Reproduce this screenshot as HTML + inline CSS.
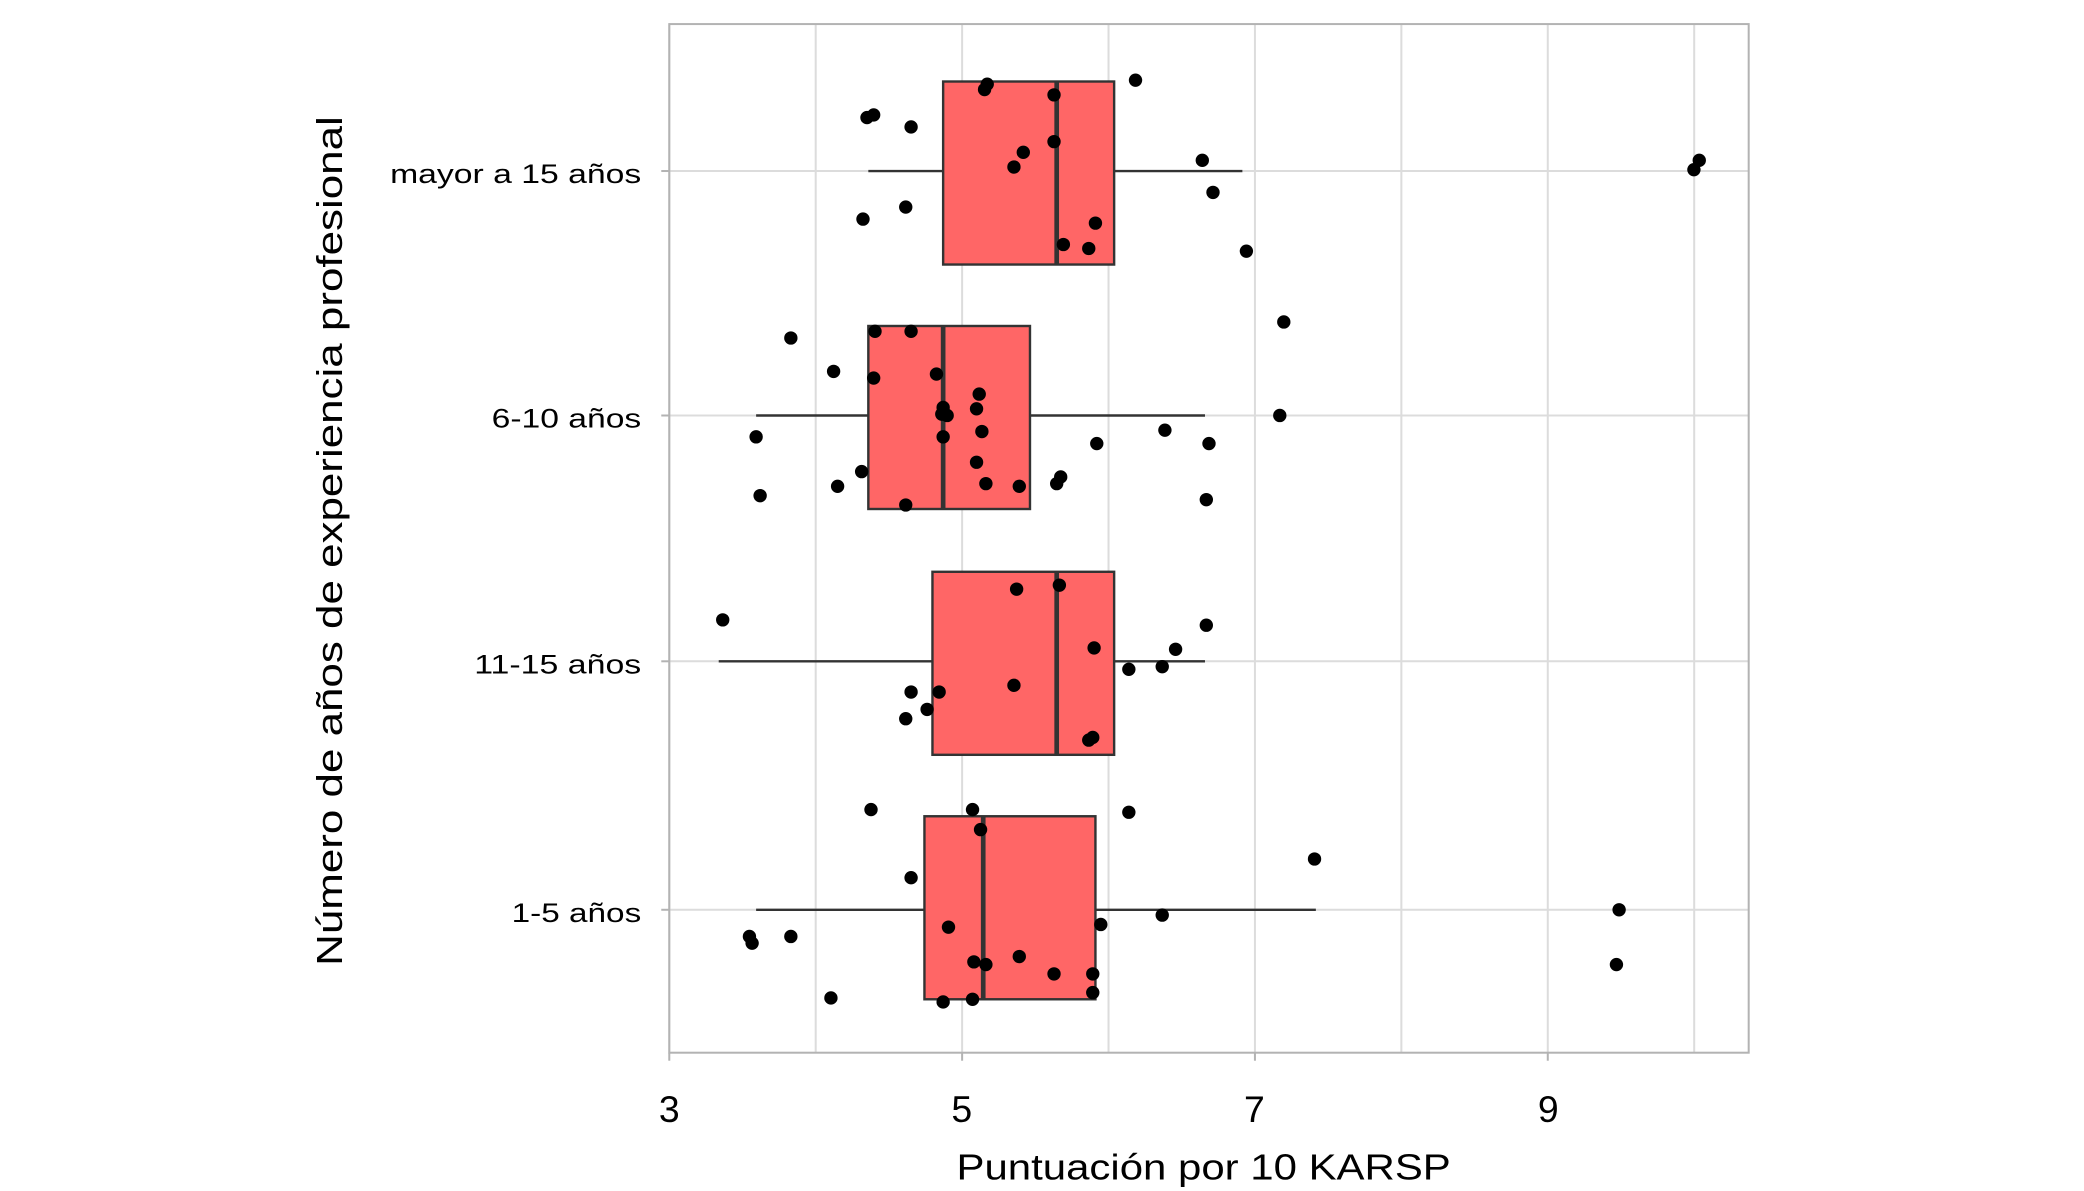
<!DOCTYPE html>
<html><head><meta charset="utf-8"><style>html,body{margin:0;padding:0;background:#fff}svg{display:block}</style></head>
<body>
<svg width="2084" height="1191" viewBox="0 0 1560 891.5" xmlns="http://www.w3.org/2000/svg" font-family="Liberation Sans, sans-serif">
<rect width="1560" height="891.5" fill="#fff"/>
<g stroke="#dcdcdc" stroke-width="1.5">
<line x1="501" y1="18" x2="501" y2="788"/><line x1="610.6" y1="18" x2="610.6" y2="788"/><line x1="720.2" y1="18" x2="720.2" y2="788"/><line x1="829.8" y1="18" x2="829.8" y2="788"/><line x1="939.4" y1="18" x2="939.4" y2="788"/><line x1="1049" y1="18" x2="1049" y2="788"/><line x1="1158.6" y1="18" x2="1158.6" y2="788"/><line x1="1268.2" y1="18" x2="1268.2" y2="788"/>
<line x1="501" y1="128" x2="1309" y2="128"/><line x1="501" y1="311" x2="1309" y2="311"/><line x1="501" y1="495" x2="1309" y2="495"/><line x1="501" y1="681" x2="1309" y2="681"/>
</g>
<g stroke="#333" stroke-width="1.8" fill="#ff6666">
<line x1="650" y1="128" x2="930" y2="128"/><rect x="706" y="61" width="128" height="137"/><line x1="791" y1="61" x2="791" y2="198" stroke-width="3.5"/>
<line x1="566" y1="311" x2="902" y2="311"/><rect x="650" y="244" width="121" height="137"/><line x1="706" y1="244" x2="706" y2="381" stroke-width="3.5"/>
<line x1="538" y1="495" x2="902" y2="495"/><rect x="698" y="428" width="136" height="137"/><line x1="791" y1="428" x2="791" y2="565" stroke-width="3.5"/>
<line x1="566" y1="681" x2="985" y2="681"/><rect x="692" y="611" width="128" height="137"/><line x1="736" y1="611" x2="736" y2="748" stroke-width="3.5"/>
</g>
<g fill="#000">
<circle cx="739" cy="63" r="5"/><circle cx="737" cy="67" r="5"/><circle cx="850" cy="60" r="5"/><circle cx="654" cy="86" r="5"/><circle cx="649" cy="88" r="5"/><circle cx="682" cy="95" r="5"/><circle cx="789" cy="71" r="5"/><circle cx="789" cy="106" r="5"/><circle cx="766" cy="114" r="5"/><circle cx="759" cy="125" r="5"/><circle cx="900" cy="120" r="5"/><circle cx="908" cy="144" r="5"/><circle cx="646" cy="164" r="5"/><circle cx="678" cy="155" r="5"/><circle cx="820" cy="167" r="5"/><circle cx="796" cy="183" r="5"/><circle cx="815" cy="186" r="5"/><circle cx="933" cy="188" r="5"/><circle cx="1272" cy="120" r="5"/><circle cx="1268" cy="127" r="5"/>
<circle cx="961" cy="241" r="5"/><circle cx="592" cy="253" r="5"/><circle cx="655" cy="248" r="5"/><circle cx="682" cy="248" r="5"/><circle cx="624" cy="278" r="5"/><circle cx="654" cy="283" r="5"/><circle cx="701" cy="280" r="5"/><circle cx="733" cy="295" r="5"/><circle cx="731" cy="306" r="5"/><circle cx="706" cy="305" r="5"/><circle cx="709" cy="311" r="5"/><circle cx="705" cy="310" r="5"/><circle cx="958" cy="311" r="5"/><circle cx="566" cy="327" r="5"/><circle cx="706" cy="327" r="5"/><circle cx="735" cy="323" r="5"/><circle cx="872" cy="322" r="5"/><circle cx="905" cy="332" r="5"/><circle cx="821" cy="332" r="5"/><circle cx="645" cy="353" r="5"/><circle cx="731" cy="346" r="5"/><circle cx="794" cy="357" r="5"/><circle cx="791" cy="362" r="5"/><circle cx="627" cy="364" r="5"/><circle cx="738" cy="362" r="5"/><circle cx="763" cy="364" r="5"/><circle cx="569" cy="371" r="5"/><circle cx="678" cy="378" r="5"/><circle cx="903" cy="374" r="5"/>
<circle cx="541" cy="464" r="5"/><circle cx="761" cy="441" r="5"/><circle cx="793" cy="438" r="5"/><circle cx="903" cy="468" r="5"/><circle cx="880" cy="486" r="5"/><circle cx="819" cy="485" r="5"/><circle cx="845" cy="501" r="5"/><circle cx="870" cy="499" r="5"/><circle cx="759" cy="513" r="5"/><circle cx="682" cy="518" r="5"/><circle cx="703" cy="518" r="5"/><circle cx="694" cy="531" r="5"/><circle cx="678" cy="538" r="5"/><circle cx="818" cy="552" r="5"/><circle cx="815" cy="554" r="5"/>
<circle cx="652" cy="606" r="5"/><circle cx="728" cy="606" r="5"/><circle cx="845" cy="608" r="5"/><circle cx="734" cy="621" r="5"/><circle cx="984" cy="643" r="5"/><circle cx="682" cy="657" r="5"/><circle cx="1212" cy="681" r="5"/><circle cx="870" cy="685" r="5"/><circle cx="824" cy="692" r="5"/><circle cx="710" cy="694" r="5"/><circle cx="561" cy="701" r="5"/><circle cx="563" cy="706" r="5"/><circle cx="592" cy="701" r="5"/><circle cx="763" cy="716" r="5"/><circle cx="729" cy="720" r="5"/><circle cx="738" cy="722" r="5"/><circle cx="789" cy="729" r="5"/><circle cx="818" cy="729" r="5"/><circle cx="1210" cy="722" r="5"/><circle cx="622" cy="747" r="5"/><circle cx="706" cy="750" r="5"/><circle cx="728" cy="748" r="5"/><circle cx="818" cy="743" r="5"/>
</g>
<rect x="501" y="18" width="808" height="770" fill="none" stroke="#b3b3b3" stroke-width="1.5"/>
<g stroke="#b3b3b3" stroke-width="1.5">
<line x1="495" y1="128" x2="501" y2="128"/><line x1="495" y1="311" x2="501" y2="311"/><line x1="495" y1="495" x2="501" y2="495"/><line x1="495" y1="681" x2="501" y2="681"/>
<line x1="501" y1="788" x2="501" y2="794"/><line x1="720.2" y1="788" x2="720.2" y2="794"/><line x1="939.4" y1="788" x2="939.4" y2="794"/><line x1="1158.6" y1="788" x2="1158.6" y2="794"/>
</g>
<g font-size="20" fill="#000" text-anchor="end">
<text x="480" y="137" textLength="188" lengthAdjust="spacingAndGlyphs">mayor a 15 años</text>
<text x="480" y="320" textLength="112" lengthAdjust="spacingAndGlyphs">6-10 años</text>
<text x="480" y="504" textLength="125" lengthAdjust="spacingAndGlyphs">11-15 años</text>
<text x="480" y="690" textLength="97" lengthAdjust="spacingAndGlyphs">1-5 años</text>
</g>
<g font-size="28" fill="#000" text-anchor="middle">
<text x="501" y="840">3</text><text x="720" y="840">5</text><text x="939" y="840">7</text><text x="1159" y="840">9</text>
</g>
<text x="901" y="883" font-size="27" text-anchor="middle" textLength="370" lengthAdjust="spacingAndGlyphs">Puntuación por 10 KARSP</text>
<text transform="translate(256,405) rotate(-90)" font-size="27" text-anchor="middle" textLength="636" lengthAdjust="spacingAndGlyphs">Número de años de experiencia profesional</text>
</svg>
</body></html>
